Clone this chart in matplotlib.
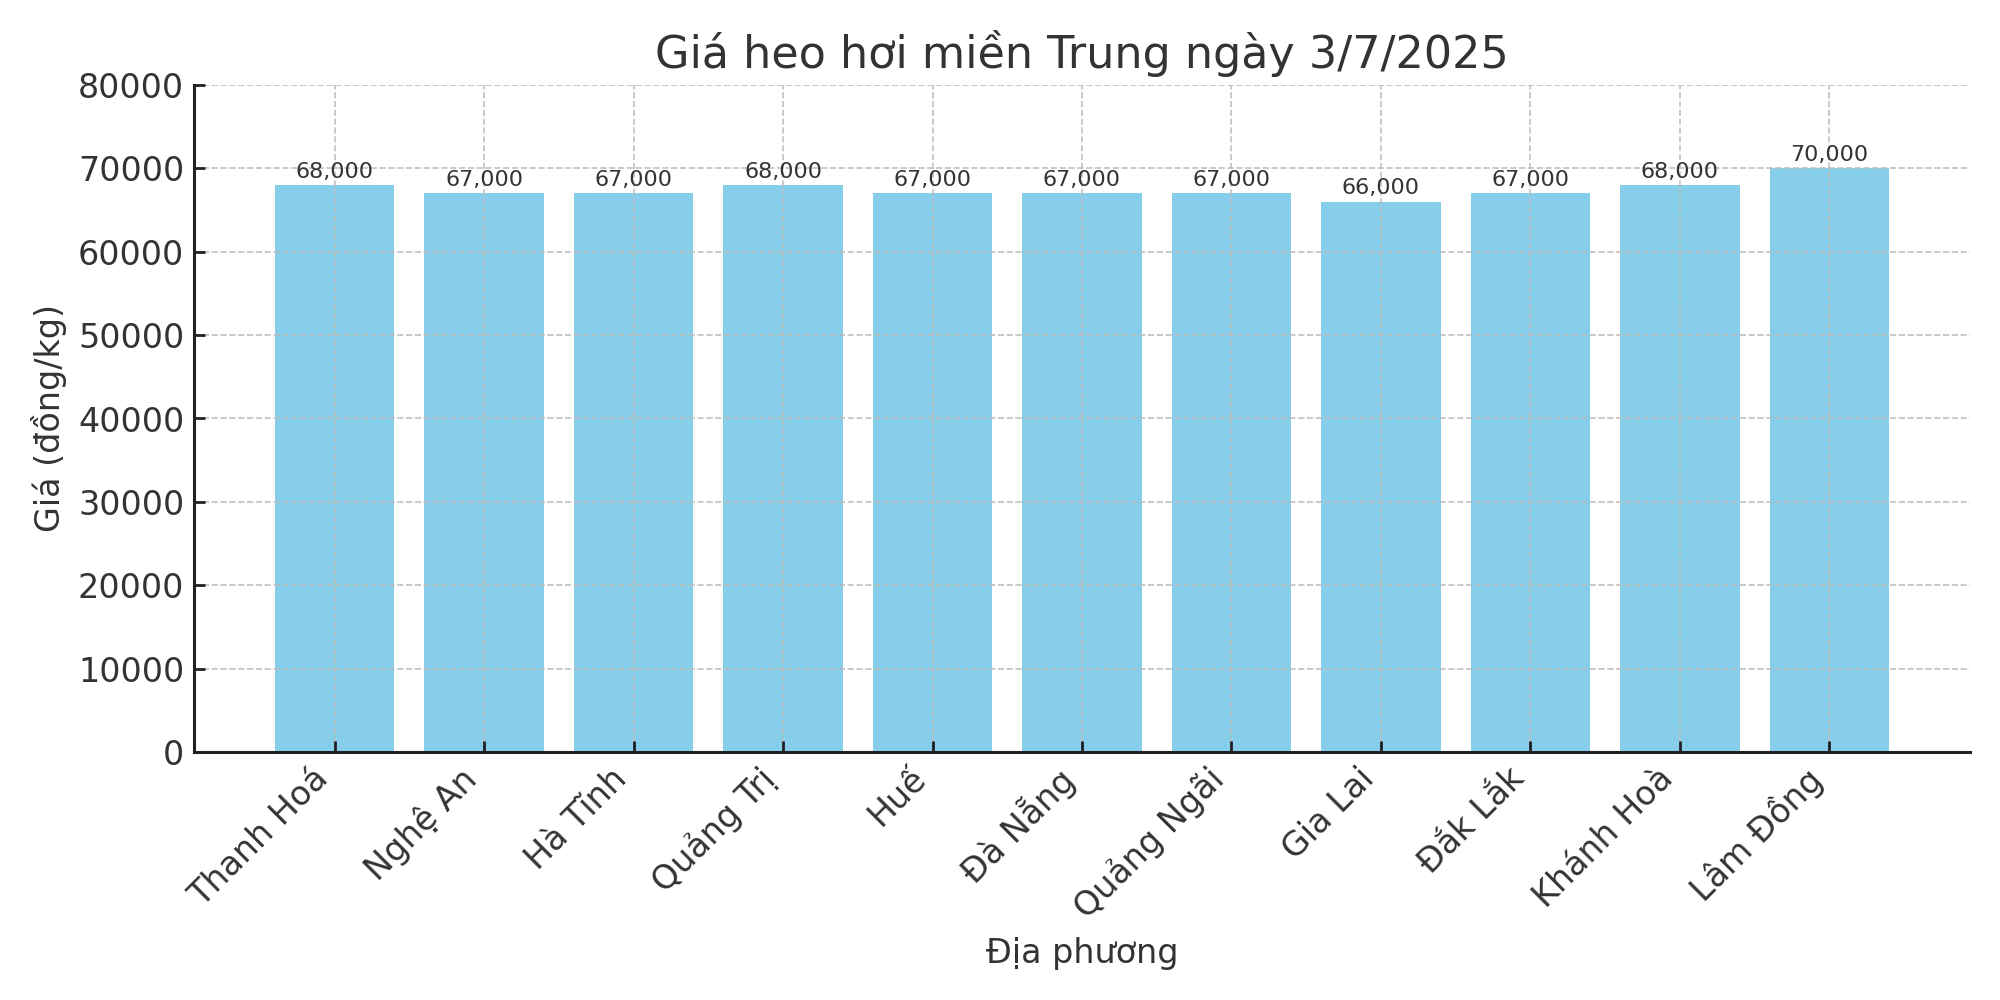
import matplotlib
matplotlib.use("Agg")
import matplotlib.pyplot as plt

provinces = ["Thanh Hoá", "Nghệ An", "Hà Tĩnh", "Quảng Trị", "Huế", "Đà Nẵng",
             "Quảng Ngãi", "Gia Lai", "Đắk Lắk", "Khánh Hoà", "Lâm Đồng"]
prices = [68000, 67000, 67000, 68000, 67000, 67000, 67000, 66000, 67000, 68000, 70000]
yticks = [0, 10000, 20000, 30000, 40000, 50000, 60000, 70000, 80000]

plt.rcParams['font.family'] = ['DejaVu Sans']
text_color = '#333333'

fig, ax = plt.subplots(figsize=(10, 5), dpi=200)
fig.subplots_adjust(left=0.097, right=0.985, bottom=0.248, top=0.915)

x = list(range(len(provinces)))
ax.bar(x, prices, color='skyblue', width=0.8)
for xi, p in zip(x, prices):
    ax.text(xi, p + 400, f"{p:,}", ha='center', va='bottom', fontsize=8, color=text_color)

ax.set_ylim(0, 80000)
ax.set_yticks(yticks)
ax.set_xticks(x)
ax.set_xticklabels(provinces, rotation=45, ha='right', fontsize=12, color=text_color)
ax.tick_params(axis='y', labelsize=12, labelcolor=text_color)
ax.tick_params(direction='in', length=4, width=1, color='#222222')

ax.set_title("Giá heo hơi miền Trung ngày 3/7/2025", fontsize=16, color=text_color)
ax.set_xlabel("Địa phương", fontsize=12, color=text_color)
ax.set_ylabel("Giá (đồng/kg)", fontsize=12, color=text_color)

ax.grid(True, linestyle='--', color='#bbbbbb', linewidth=0.6, alpha=0.9)
for s in ['top', 'right']:
    ax.spines[s].set_visible(False)
for s in ['left', 'bottom']:
    ax.spines[s].set_linewidth(1.1)
    ax.spines[s].set_color('#222222')

fig.savefig("out.png", dpi=200)
